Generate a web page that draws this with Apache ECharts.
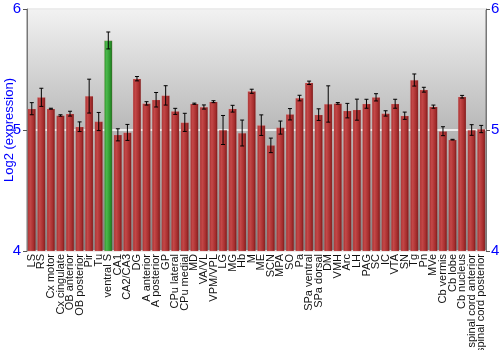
<!DOCTYPE html>
<html>
<head>
<meta charset="utf-8">
<script src="https://cdn.jsdelivr.net/npm/echarts@6/dist/echarts.min.js"></script>
<style>
html, body { margin: 0; padding: 0; background: #fff; }
#chart { width: 500px; height: 350px; }
</style>
</head>
<body>
<div id="chart"></div>
<script>
// 脑区
var regions = ['LS', 'RS', 'Cx motor', 'Cx cingulate', 'OB anterior', 'OB posterior', 'Pir', 'Tu',
	'ventral S', 'CA1', 'CA2/CA3', 'DG', 'A anterior', 'A posterior', 'GP', 'CPu lateral', 'CPu medial',
	'MD', 'VA/VL', 'VPM/VPL', 'LG', 'MG', 'Hb', 'M', 'ME', 'SCN', 'MPA', 'SO', 'Pa', 'SPa ventral',
	'SPa dorsal', 'DM', 'VMH', 'Arc', 'LH', 'PAG', 'SC', 'IC', 'VTA', 'SN', 'Tg', 'Pn', 'MVe',
	'Cb vermis', 'Cb lobe', 'Cb nucleus', 'spinal cord anterior', 'spinal cord posterior'];
// 表达量 (log2)
var expression = [5.176, 5.27, 5.176, 5.12, 5.135, 5.027, 5.28, 5.07,
	5.74, 4.96, 4.98, 5.424, 5.22, 5.25, 5.286, 5.154, 5.063,
	5.217, 5.19, 5.234, 5.0, 5.176, 4.975, 5.32, 5.04, 4.873, 5.02, 5.13, 5.264, 5.39,
	5.127, 5.215, 5.22, 5.16, 5.168, 5.217, 5.27, 5.137, 5.217, 5.118, 5.413, 5.333, 5.193,
	4.99, 4.92, 5.275, 5.0, 5.008];
// 误差
var errors = [0.05, 0.075, 0.004, 0.006, 0.02, 0.04, 0.14, 0.075,
	0.07, 0.05, 0.066, 0.018, 0.014, 0.06, 0.08, 0.025, 0.075,
	0.005, 0.017, 0.008, 0.12, 0.028, 0.107, 0.017, 0.085, 0.06, 0.054, 0.047, 0.023, 0.014,
	0.048, 0.15, 0.007, 0.06, 0.087, 0.037, 0.03, 0.022, 0.037, 0.03, 0.05, 0.02, 0.013,
	0.037, 0.003, 0.011, 0.044, 0.03];
var highlight = 'ventral S';
var yTicks = [4, 5, 6];

function barGradient(light, mid, dark) {
	return new echarts.graphic.LinearGradient(0, 0, 1, 0, [
		{ offset: 0, color: mid },
		{ offset: 0.3, color: light },
		{ offset: 0.75, color: mid },
		{ offset: 1, color: dark }
	]);
}
var redFill = barGradient('#c44848', '#a42c2c', '#6e1414');
var greenFill = barGradient('#4cb84c', '#2a932a', '#176017');

var barData = expression.map(function(v, i) {
	return {
		value : v,
		itemStyle : { color : regions[i] === highlight ? greenFill : redFill }
	};
});
var errData = expression.map(function(v, i) {
	return [i, v - errors[i], v + errors[i]];
});

var axisLabelStyle = { color : '#0000ff', fontSize : 15, fontFamily : 'Liberation Sans' };

var option = {
	animation : false,
	grid : {
		left : 27, right : 14, top : 9, bottom : 99,
		outerBoundsMode : 'none',
		containLabel : false,
		show : true,
		borderColor : '#777',
		borderWidth : 1,
		backgroundColor : new echarts.graphic.LinearGradient(0, 0, 0, 1, [
			{ offset: 0, color: '#f2f2f2' },
			{ offset: 1, color: '#7e7e7e' }
		])
	},
	xAxis : {
		type : 'category',
		data : regions,
		axisLine : { show : false },
		axisTick : { show : false },
		axisLabel : {
			interval : 0, rotate : 90, margin : 3,
			color : '#111', fontSize : 11, fontFamily : 'Liberation Sans'
		}
	},
	yAxis : [ {
		type : 'value', min : 4, max : 6, interval : 1,
		name : 'Log2 (expression)', nameLocation : 'middle', nameGap : 11,
		nameMoveOverlap : false,
		nameTextStyle : { color : '#0000ff', fontSize : 13, fontFamily : 'Liberation Sans' },
		axisLine : { show : true, lineStyle : { color : '#777' } },
		axisTick : { show : true, length : 4, lineStyle : { color : '#555' } },
		axisLabel : Object.assign({ margin : 6 }, axisLabelStyle),
		splitLine : { show : true, lineStyle : { color : '#fff', width : 1.5 } }
	}, {
		type : 'value', min : 4, max : 6, interval : 1, position : 'right',
		axisLine : { show : true, lineStyle : { color : '#777' } },
		axisTick : { show : true, length : 4, lineStyle : { color : '#555' } },
		axisLabel : Object.assign({ margin : 5 }, axisLabelStyle),
		splitLine : { show : false }
	} ],
	series : [ {
		type : 'bar',
		data : barData,
		barCategoryGap : '14%',
		itemStyle : { borderColor : 'rgba(255,170,170,0.35)', borderWidth : 0.5 }
	}, {
		type : 'custom',
		data : errData,
		z : 10,
		renderItem : function(params, api) {
			var lo = api.coord([api.value(0), api.value(1)]);
			var hi = api.coord([api.value(0), api.value(2)]);
			var cap = 2;
			var style = { stroke : '#000', lineWidth : 1 };
			return {
				type : 'group',
				children : [
					{ type : 'line', shape : { x1 : lo[0], y1 : lo[1], x2 : hi[0], y2 : hi[1] }, style : style },
					{ type : 'line', shape : { x1 : lo[0] - cap, y1 : lo[1], x2 : lo[0] + cap, y2 : lo[1] }, style : style },
					{ type : 'line', shape : { x1 : hi[0] - cap, y1 : hi[1], x2 : hi[0] + cap, y2 : hi[1] }, style : style }
				]
			};
		}
	} ]
};

var chart = echarts.init(document.getElementById('chart'));
chart.setOption(option);
</script>
</body>
</html>
